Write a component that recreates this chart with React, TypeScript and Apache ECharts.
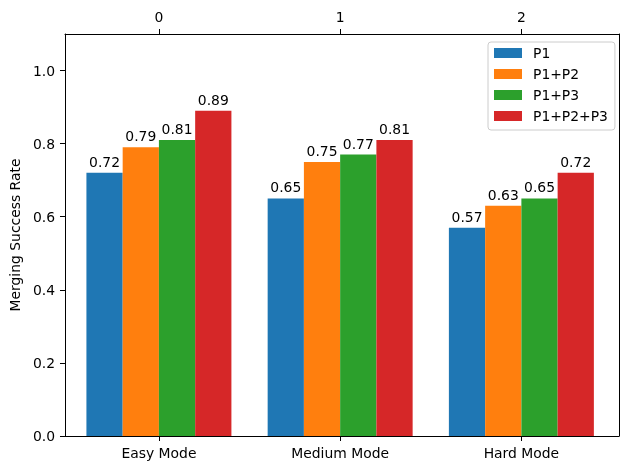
import React, { useEffect, useRef } from "react";
import * as echarts from "echarts";

const categories = ["Easy Mode", "Medium Mode", "Hard Mode"];
const topTicks = ["0", "1", "2"];
const seriesNames = ["P1", "P1+P2", "P1+P3", "P1+P2+P3"];
const p1 = [0.72, 0.65, 0.57];
const p1p2 = [0.79, 0.75, 0.63];
const p1p3 = [0.81, 0.77, 0.65];
const p1p2p3 = [0.89, 0.81, 0.72];
const yTicks = [0, 0.2, 0.4, 0.6, 0.8, 1.0];
const colors = ["#1f77b4", "#ff7f0e", "#2ca02c", "#d62728"];

const FONT = "DejaVu Sans";
const FS = 13.9;

const frameAxis = (position: string) => ({
  type: "value",
  gridIndex: 0,
  position,
  min: 0,
  max: 1,
  axisLine: { show: true, onZero: false, lineStyle: { color: "#000", width: 1 } },
  axisTick: { show: false },
  axisLabel: { show: false },
  splitLine: { show: false },
});

export default function App() {
  const ref = useRef<HTMLDivElement>(null);
  useEffect(() => {
    if (!ref.current) return;
    const chart = echarts.init(ref.current, null, { renderer: "svg" });
    const values = [p1, p1p2, p1p3, p1p2p3];
    const option = {
      animation: false,
      textStyle: { fontFamily: FONT },
      grid: [
        { left: 61, right: 11, top: 34, bottom: 34 },
        { left: 68.3, right: 18, top: 34, bottom: 34 },
      ],
      legend: {
        orient: "vertical",
        left: 488,
        top: 42,
        padding: [3, 7, 6, 6],
        itemWidth: 28,
        itemHeight: 10,
        itemGap: 5,
        icon: "rect",
        borderColor: "#cccccc",
        borderWidth: 1,
        borderRadius: 3,
        backgroundColor: "rgba(255,255,255,0.8)",
        textStyle: { fontFamily: FONT, fontSize: FS, color: "#000", lineHeight: 16, padding: [0, 0, 0, 6] },
        data: seriesNames,
      },
      xAxis: [
        frameAxis("bottom"),
        {
          type: "category",
          gridIndex: 1,
          position: "bottom",
          data: categories,
          axisLine: { show: true, lineStyle: { color: "#000", width: 1 } },
          axisTick: { show: true, alignWithLabel: true, length: 5, lineStyle: { color: "#000" } },
          axisLabel: { color: "#000", fontFamily: FONT, fontSize: FS, margin: 10 },
        },
        {
          type: "category",
          gridIndex: 1,
          position: "top",
          data: topTicks,
          axisLine: { show: true, lineStyle: { color: "#000", width: 1 } },
          axisTick: { show: true, alignWithLabel: true, length: 5, lineStyle: { color: "#000" } },
          axisLabel: { color: "#000", fontFamily: FONT, fontSize: FS, margin: 10 },
        },
        frameAxis("top"),
      ],
      yAxis: [
        {
          type: "value",
          gridIndex: 0,
          min: 0,
          max: 1.1,
          interval: 0.2,
          name: "Merging Success Rate",
          nameLocation: "middle",
          nameGap: 38,
          nameTextStyle: { color: "#000", fontFamily: FONT, fontSize: FS },
          axisLine: { show: true, onZero: false, lineStyle: { color: "#000", width: 1 } },
          axisTick: { show: true, length: 5, lineStyle: { color: "#000" }, customValues: yTicks },
          axisLabel: {
            color: "#000",
            fontFamily: FONT,
            fontSize: FS,
            margin: 10,
            customValues: yTicks,
            formatter: (v: number) => v.toFixed(1),
          },
          splitLine: { show: false },
        },
        { type: "value", gridIndex: 1, min: 0, max: 1.1, show: false, splitLine: { show: false } },
        { ...frameAxis("right"), max: 1.1 },
      ],
      series: seriesNames.map((name, i) => ({
        name,
        type: "bar",
        xAxisIndex: 1,
        yAxisIndex: 1,
        data: values[i],
        barGap: "0%",
        barCategoryGap: "20%",
        itemStyle: { color: colors[i] },
        label: {
          show: true,
          position: "top",
          distance: 4,
          color: "#000",
          fontFamily: FONT,
          fontSize: FS,
          formatter: (p: any) => Number(p.value).toFixed(2),
        },
      })),
    };
    chart.setOption(option as any);
    return () => chart.dispose();
  }, []);
  return <div ref={ref} style={{ position: "fixed", left: 0, top: 0, width: 630, height: 470 }} />;
}
